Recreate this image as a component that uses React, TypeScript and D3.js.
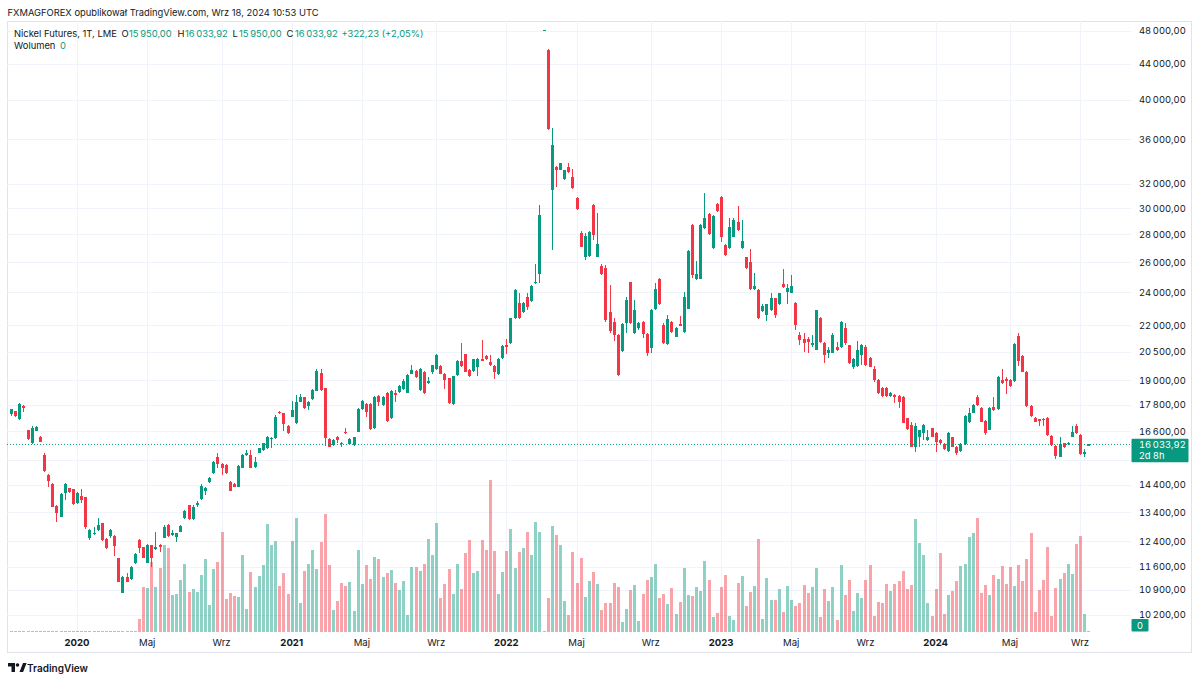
import React from "react";
import * as d3 from "d3";

// Weekly bars, first bar dated Monday 2019-09-16
const START_DATE = "2019-09-16";

const OPEN = [
  17370, 17515, 17150, 17770, 16656, 16080, 16625, 16366, 15587, 14784,
  14420, 13630, 13240, 14110, 14280, 14230, 13720, 13980, 13930, 12500,
  12640, 12778, 13005, 12490, 12590, 12590, 11850, 10815, 11270, 11210,
  11700, 12443, 12200, 11720, 12270, 12140, 12279, 12520, 12940, 12609,
  12555, 12720, 13180, 13640, 13150, 13653, 13860, 14170, 14510, 14850,
  15520, 15210, 15195, 14520, 14430, 14330, 15080, 15587, 15587, 15090,
  15690, 15797, 15870, 16260, 16290, 17490, 17410, 16850, 17255, 16955,
  17960, 18170, 17760, 18070, 18490, 19390, 18600, 16260, 16010, 16366,
  16110, 16560, 16040, 16010, 16585, 17600, 17840, 17840, 16730, 18230,
  17800, 18400, 17180, 18400, 18440, 18550, 18400, 19350, 19490, 18520,
  19440, 18880, 19440, 19610, 19730, 19350, 19100, 17840, 19270, 20000,
  20370, 19527, 19480, 19700, 20100, 20280, 19960, 19730, 19310, 20170,
  20900, 20960, 22400, 23330, 22800, 23720, 23450, 24580, 25200, 48078,
  45700, 31480, 33490, 33210, 32400, 33490, 32610, 30840, 28070, 26380,
  26430, 30255, 26380, 25740, 25580, 22800, 22200, 21430, 20550, 22110,
  24650, 21530, 21820, 22200, 21490, 20700, 22960, 24860, 22010, 20930,
  22200, 21340, 22070, 21620, 22990, 28693, 24860, 24890, 28440, 29540,
  26980, 30340, 30920, 27212, 26980, 27820, 28950, 26980, 26330, 26020,
  24190, 24150, 22840, 22600, 22900, 23620, 23260, 24530, 24020, 23970,
  23330, 21430, 21200, 21190, 20900, 20620, 22400, 21010, 20430, 20460,
  20780, 20780, 21820, 20870, 19700, 19730, 20350, 20780, 20170, 19610,
  19016, 18600, 18620, 18250, 18278, 18230, 18200, 17180, 16882, 15940,
  16340, 16510, 16221, 16740, 16510, 16221, 16050, 15770, 16340, 15940,
  15770, 16050, 17030, 17440, 18170, 17650, 17070, 16680, 17690, 17600,
  19016, 19080, 19016, 18980, 21380, 20290, 19440, 17760, 17180, 17140,
  17150, 17180, 16395, 15980, 15520, 16080, 16040, 16366, 16850, 16440,
  15640, 15950,
];
const HIGH = [
  17630, 17530, 17880, 17800, 16680, 16835, 16850, 16395, 15660, 14810,
  14460, 13653, 14080, 14460, 14290, 14250, 14135, 14230, 13950, 12800,
  12890, 13180, 13030, 12500, 12820, 12609, 11870, 11320, 11410, 11610,
  12010, 12465, 12220, 12310, 12279, 12720, 12310, 12940, 12975, 12778,
  12690, 12948, 13473, 13660, 13653, 13810, 14420, 14330, 14710, 15355,
  15660, 15250, 15220, 14550, 14460, 15182, 15620, 15820, 15797, 15520,
  15890, 16110, 16395, 16366, 17331, 17520, 17440, 16882, 17990, 18278,
  18330, 18200, 17990, 18580, 19560, 19610, 18620, 16290, 16250, 16410,
  16150, 16740, 16290, 16366, 17640, 18038, 17880, 17880, 18230, 18260,
  18250, 18430, 18520, 18520, 18750, 19050, 19350, 19820, 19527, 19650,
  19480, 19150, 19800, 20400, 19786, 19380, 19130, 19250, 20050, 20960,
  20400, 19580, 20130, 20160, 21150, 20317, 20317, 19770, 20190, 20870,
  21210, 22450, 24190, 23980, 23390, 23980, 24470, 25870, 30255, 48078,
  45800, 37100, 33540, 33840, 33197, 33790, 33260, 30920, 28260, 28070,
  28240, 30310, 29600, 25870, 25805, 24470, 22400, 21470, 22110, 23720,
  24690, 23515, 22200, 22260, 21570, 22940, 24630, 24900, 22150, 22600,
  22260, 21910, 22540, 24020, 26853, 28740, 26100, 28740, 31200, 29590,
  29464, 30440, 30960, 27260, 29210, 29210, 30180, 29076, 26380, 26920,
  25280, 24190, 23260, 23300, 23930, 23650, 23970, 25520, 24530, 25128,
  23390, 21620, 21530, 21300, 21430, 22920, 22460, 21060, 20780, 21530,
  21060, 22260, 22150, 20900, 20190, 21100, 20930, 20900, 20200, 19730,
  19050, 18650, 18670, 18430, 18330, 18278, 18230, 17200, 17030, 16990,
  16680, 16925, 16656, 16770, 16560, 16250, 16080, 16580, 16366, 15970,
  16080, 17331, 17640, 17840, 18278, 17690, 17105, 17690, 18170, 19220,
  19610, 19150, 19050, 20960, 21530, 20317, 19480, 17800, 17255, 17160,
  17180, 17230, 16440, 16010, 16366, 16110, 16120, 16840, 16925, 16470,
  15840, 16033.92,
];
const LOW = [
  17290, 17250, 17120, 17490, 16220, 16050, 16600, 16120, 14910, 14310,
  13570, 13060, 13210, 13835, 14110, 13653, 13690, 13720, 12820, 12443,
  12620, 12755, 12420, 12150, 12500, 11925, 11120, 10800, 11120, 11190,
  11680, 12010, 11850, 11700, 11590, 12117, 12060, 12500, 12555, 12575,
  12390, 12700, 13150, 13121, 13121, 13590, 13835, 14020, 14480, 14820,
  15050, 14784, 14820, 14160, 14310, 14310, 15050, 15560, 15050, 15060,
  15660, 15770, 15840, 15870, 16260, 17380, 16620, 16480, 17230, 16925,
  17930, 17610, 17563, 18038, 18460, 18490, 15970, 15910, 15980, 16110,
  15910, 16480, 16010, 15980, 16560, 17563, 17255, 16670, 16700, 17770,
  17770, 17040, 17150, 17960, 18400, 18520, 18370, 19310, 19120, 18490,
  18350, 18800, 19310, 19527, 19310, 18550, 17840, 17810, 19230, 19700,
  19410, 19180, 19440, 19220, 19980, 20050, 19730, 19070, 19270, 20130,
  20370, 20930, 22360, 22360, 22740, 22900, 23400, 24530, 24580, 48078,
  36900, 26853, 31750, 33180, 32330, 32980, 31560, 29857, 27040, 26150,
  26380, 27575, 26330, 25128, 22200, 21530, 21090, 19220, 20500, 21530,
  22070, 21490, 21720, 21240, 20290, 20430, 22900, 23200, 20930, 20870,
  21570, 21300, 21940, 21570, 22970, 24900, 24796, 24860, 28370, 27943,
  26920, 29720, 27450, 26430, 26920, 27770, 28260, 26920, 25520, 24150,
  24150, 22360, 22780, 22260, 22860, 22400, 23200, 24250, 23300, 23930,
  21720, 20870, 20500, 20430, 20780, 20590, 20990, 19890, 20190, 20430,
  20550, 20730, 20900, 19860, 19560, 19700, 19786, 19750, 19670, 18930,
  18350, 18170, 18200, 18200, 17880, 17680, 16960, 16656, 15910, 15730,
  15940, 16221, 16190, 16340, 15730, 16050, 15797, 15730, 15910, 15587,
  15730, 16010, 16990, 17410, 17770, 17000, 16440, 16656, 17530, 17563,
  18820, 18330, 18680, 18930, 19730, 19410, 17730, 17255, 17000, 16840,
  16840, 16410, 15980, 15410, 15490, 15870, 16010, 16340, 16480, 15587,
  15520, 15950,
];
const CLOSE = [
  17610, 17300, 17830, 17680, 16250, 16760, 16805, 16150, 14940, 14560,
  13590, 13380, 14060, 14440, 14120, 13680, 14110, 13835, 12870, 12770,
  12690, 12948, 12443, 12170, 12778, 12245, 11140, 11290, 11140, 11590,
  11980, 12170, 11870, 12270, 11850, 12225, 12225, 12890, 12575, 12690,
  12670, 12925, 13450, 13150, 13590, 13720, 14370, 14290, 14680, 15315,
  15220, 15060, 14850, 14180, 14330, 15150, 15587, 15660, 15080, 15315,
  15870, 16080, 16366, 16320, 17255, 17410, 16925, 16510, 17563, 17960,
  18200, 17650, 17960, 18520, 19490, 18520, 16290, 15940, 16221, 16221,
  16050, 16510, 16260, 16340, 17610, 18000, 17490, 16700, 18200, 17960,
  18200, 17070, 18490, 18278, 18710, 18980, 19300, 19527, 19150, 19610,
  18380, 18980, 19770, 20350, 19350, 19016, 17880, 19220, 20000, 19730,
  19440, 19220, 20100, 20130, 20010, 20090, 19786, 19440, 20130, 20810,
  20780, 22400, 24150, 22400, 23330, 23060, 24430, 24690, 29464, 48078,
  36980, 35474, 33210, 33790, 33180, 33030, 31620, 29900, 27090, 27870,
  28180, 27943, 27290, 25200, 22300, 21680, 21430, 19270, 22070, 23515,
  22110, 22900, 22150, 21490, 20430, 22900, 24190, 23260, 20960, 22340,
  21620, 21820, 21960, 23680, 26800, 25128, 25170, 28693, 29210, 28020,
  29390, 29780, 27820, 26500, 28570, 29076, 28316, 27520, 25580, 24190,
  24400, 22400, 23170, 23260, 23620, 22600, 23930, 24320, 24250, 24400,
  22010, 21150, 20990, 21060, 21010, 22900, 21060, 20350, 20590, 21430,
  20590, 22200, 20960, 19890, 20130, 20620, 20870, 19786, 19700, 19016,
  18380, 18230, 18230, 18380, 18170, 17960, 16990, 16700, 15940, 16840,
  16656, 16882, 16340, 16366, 16150, 16080, 15830, 16540, 15940, 15660,
  16050, 17290, 17440, 17800, 17800, 17030, 16540, 17650, 17563, 19190,
  18850, 18970, 18710, 20930, 20010, 19440, 17760, 17290, 17030, 17070,
  17105, 16440, 16010, 15545, 16050, 15910, 16080, 16585, 16510, 15615,
  15711.69, 16033.92,
];
// volume, relative units (bars start late April 2020; earlier weeks are empty)
const VOLUME = [
  0, 0, 0, 0, 0, 0, 0, 0, 0, 0,
  0, 0, 0, 0, 0, 0, 0, 0, 0, 0,
  0, 0, 0, 0, 0, 0, 0, 0, 0, 0,
  0, 123, 443, 437, 700, 443, 640, 863, 840, 367,
  377, 517, 673, 397, 430, 397, 570, 723, 270, 630,
  697, 993, 327, 390, 357, 343, 770, 227, 600, 447,
  557, 663, 1077, 863, 910, 457, 583, 373, 910, 1133,
  287, 607, 677, 817, 623, 897, 1173, 663, 217, 303,
  490, 457, 497, 210, 817, 477, 663, 530, 743, 723,
  543, 583, 617, 487, 417, 503, 167, 650, 643, 610,
  673, 927, 763, 1083, 333, 477, 630, 377, 677, 427,
  787, 913, 583, 607, 920, 817, 1523, 810, 373, 593,
  803, 1030, 640, 800, 833, 997, 763, 1093, 997, 7,
  337, 1053, 967, 867, 303, 170, 797, 490, 740, 350,
  507, 593, 477, 217, 287, 287, 483, 443, 93, 227,
  420, 467, 107, 380, 517, 547, 677, 337, 373, 273,
  437, 173, 297, 633, 367, 357, 443, 407, 707, 517,
  147, 183, 443, 567, 160, 117, 483, 557, 257, 397,
  460, 927, 130, 533, 317, 313, 427, 200, 460, 317,
  257, 287, 467, 383, 443, 633, 147, 423, 307, 443,
  117, 663, 367, 517, 207, 390, 337, 517, 663, 160,
  297, 287, 477, 407, 477, 507, 607, 430, 467, 1130,
  883, 770, 290, 160, 430, 790, 177, 367, 407, 507,
  660, 677, 943, 990, 1140, 383, 467, 367, 567, 530,
  653, 477, 647, 460, 663, 507, 727, 990, 193, 413,
  517, 843, 160, 440, 523, 583, 677, 577, 877, 960,
  173, 0,
];

// 15 400 is a grid level whose label is hidden behind the last-price badge
const PRICE_TICKS = [
  48000, 44000, 40000, 36000, 32000, 30000, 28000, 26000, 24000, 22000,
  20500, 19000, 17800, 16600, 15400, 14400, 13400, 12400, 11600, 10900, 10200,
];
const HIDDEN_PRICE_LABELS = [15400];
const TIME_TICK_DATES = [
  "2020-01-06", "2020-05-04", "2020-09-07", "2021-01-04", "2021-05-03",
  "2021-09-06", "2022-01-03", "2022-05-02", "2022-09-05", "2023-01-02",
  "2023-05-01", "2023-09-04", "2024-01-01", "2024-05-06", "2024-09-02",
];
const TIME_TICK_LABELS = [
  "2020", "Maj", "Wrz", "2021", "Maj", "Wrz", "2022", "Maj", "Wrz",
  "2023", "Maj", "Wrz", "2024", "Maj", "Wrz",
];

const UP = "#089981";
const DOWN = "#f23645";
const TEXT = "#131722";
const GRID = "#f0f3fa";
const FONT = "Inter, 'Noto Sans', sans-serif";

const pl = d3.formatLocale({ decimal: ",", thousands: "\u2009", grouping: [3], currency: ["", ""] });
const fmt = pl.format(",.2f");

export default function App() {
  const W = 1200;
  const H = 681;
  const left = 7;
  const plotRight = 1131;
  const top = 21;
  const bottom = 632;

  const t0 = new Date(START_DATE + "T00:00:00Z");
  const dates = OPEN.map((_, i) => d3.utcDay.offset(t0, 7 * i));
  const x = d3.scaleUtc().domain([dates[0], dates[dates.length - 1]]).range([11, 1088.4]);
  const y = d3.scaleLog().domain([10200, 48000]).range([615, 31]);
  const vMax = d3.max(VOLUME) as number;
  const yv = d3.scaleLinear().domain([0, vMax]).range([631.5, 479.5]);

  const n = OPEN.length;
  const lastC = CLOSE[n - 1];
  const prevC = CLOSE[n - 2];
  const chg = lastC - prevC;
  const pct = (chg / prevC) * 100;
  const yLast = y(lastC);

  const tickX = TIME_TICK_DATES.map((d) => x(new Date(d + "T00:00:00Z")));

  const hdrVal = { fill: UP };

  return (
    <svg
      width={W}
      height={H}
      viewBox={`0 0 ${W} ${H}`}
      style={{ position: "fixed", left: 0, top: 0, background: "#fff", fontFamily: FONT }}
    >
      <defs>
        <clipPath id="plot">
          <rect x={left} y={top} width={plotRight - left} height={bottom - top} />
        </clipPath>
      </defs>
      <rect x={0} y={0} width={W} height={H} fill="#fff" />

      {/* header */}
      <text x={7.5} y={15.7} fontSize={9.4} fill={TEXT} textLength={311} lengthAdjust="spacingAndGlyphs">
        FXMAGFOREX opublikował TradingView.com, Wrz 18, 2024 10:53 UTC
      </text>

      {/* frame */}
      <rect x={left + 0.5} y={top + 0.5} width={1191 - left} height={652 - top} fill="none" stroke="#e0e3eb" />

      {/* grid */}
      <g shapeRendering="crispEdges">
        {PRICE_TICKS.map((p) => (
          <line key={"h" + p} x1={left} x2={plotRight} y1={Math.round(y(p)) + 0.5} y2={Math.round(y(p)) + 0.5} stroke={GRID} />
        ))}
        {tickX.map((tx, i) => (
          <line key={"v" + i} x1={Math.round(tx) + 0.5} x2={Math.round(tx) + 0.5} y1={top} y2={bottom} stroke={GRID} />
        ))}
      </g>

      <g clipPath="url(#plot)" shapeRendering="crispEdges">
        {/* volume */}
        {VOLUME.map((v, i) => {
          const cx = Math.round(x(dates[i]));
          const yt = Math.min(yv(v), yv(0) - 1);
          const up = CLOSE[i] >= OPEN[i];
          return (
            <rect key={"v" + i} x={cx - 1} y={yt} width={3} height={yv(0) - yt} fill={up ? UP : DOWN} fillOpacity={0.45} />
          );
        })}
        {/* candles */}
        {OPEN.map((o, i) => {
          const c = CLOSE[i];
          const cx = Math.round(x(dates[i]));
          const up = c >= o;
          const col = up ? UP : DOWN;
          const yTop = y(Math.max(o, c));
          const yBot = y(Math.min(o, c));
          const bh = Math.max(1, yBot - yTop);
          return (
            <g key={"c" + i} fill={col}>
              <rect x={cx} y={y(HIGH[i])} width={1} height={Math.max(1, y(LOW[i]) - y(HIGH[i]))} />
              <rect x={cx - 1} y={yTop} width={3} height={bh} />
            </g>
          );
        })}
      </g>

      {/* last price line */}
      <line x1={left} x2={plotRight} y1={yLast} y2={yLast} stroke={UP} strokeDasharray="1 2" strokeWidth={1} />

      {/* price axis labels */}
      <g fontSize={9.4} fill={TEXT} style={{ fontVariantNumeric: "tabular-nums" }}>
        {PRICE_TICKS.filter((p) => !HIDDEN_PRICE_LABELS.includes(p)).map((p) => (
          <text key={"t" + p} x={1139} y={y(p) + 3.4}>
            {fmt(p)}
          </text>
        ))}
      </g>

      {/* last price box */}
      <rect x={1131.5} y={yLast - 5.8} width={57} height={23.6} fill={UP} rx={1} />
      <text x={1139} y={yLast + 3.2} fontSize={9.4} fill="#fff" style={{ fontVariantNumeric: "tabular-nums" }}>
        {fmt(lastC)}
      </text>
      <text x={1139} y={yLast + 14.3} fontSize={9.4} fill="#fff">
        2d 8h
      </text>

      {/* volume zero label */}
      <rect x={1131.5} y={yv(0) - 12.5} width={17} height={12.5} fill={UP} rx={1} />
      <text x={1140} y={yv(0) - 3} fontSize={9.4} fill="#fff" textAnchor="middle">
        {VOLUME[n - 1]}
      </text>

      {/* time axis */}
      {TIME_TICK_LABELS.map((lab, i) => (
        <text
          key={"x" + i}
          x={tickX[i]}
          y={646.3}
          fontSize={9.6}
          fill={TEXT}
          textAnchor="middle"
          fontWeight={/^\d{4}$/.test(lab) ? 700 : 400}
        >
          {lab}
        </text>
      ))}

      {/* legend */}
      <g fontSize={9.4}>
        <text x={14} y={36.5} fill={TEXT}>Nickel Futures, 1T, LME</text>
        <text x={121.5} y={36.5} fill={TEXT}>O</text>
        <text x={129} y={36.5} {...hdrVal}>{fmt(OPEN[n - 1])}</text>
        <text x={177.5} y={36.5} fill={TEXT}>H</text>
        <text x={185} y={36.5} {...hdrVal}>{fmt(HIGH[n - 1])}</text>
        <text x={232.5} y={36.5} fill={TEXT}>L</text>
        <text x={239} y={36.5} {...hdrVal}>{fmt(LOW[n - 1])}</text>
        <text x={286.5} y={36.5} fill={TEXT}>C</text>
        <text x={295} y={36.5} {...hdrVal}>{fmt(lastC)}</text>
        <text x={341.5} y={36.5} {...hdrVal}>
          {(chg >= 0 ? "+" : "") + pl.format(".2f")(chg) + " (" + (pct >= 0 ? "+" : "") + pl.format(".2f")(pct) + "%)"}
        </text>
        <text x={14} y={49} fill={TEXT}>Wolumen</text>
        <text x={60} y={49} {...hdrVal}>{VOLUME[n - 1]}</text>
      </g>

      {/* TradingView mark */}
      <g fill={TEXT}>
        <path d="M8 663 h7 v9 h-3.5 v-5.5 h-3.5 z" />
        <circle cx={17.5} cy={665} r={1.8} />
        <path d="M19.5 672 l3.5 -9 h3.6 l-3.5 9 z" />
        <text x={27} y={671.5} fontSize={10} fontWeight={600}>TradingView</text>
      </g>
    </svg>
  );
}
